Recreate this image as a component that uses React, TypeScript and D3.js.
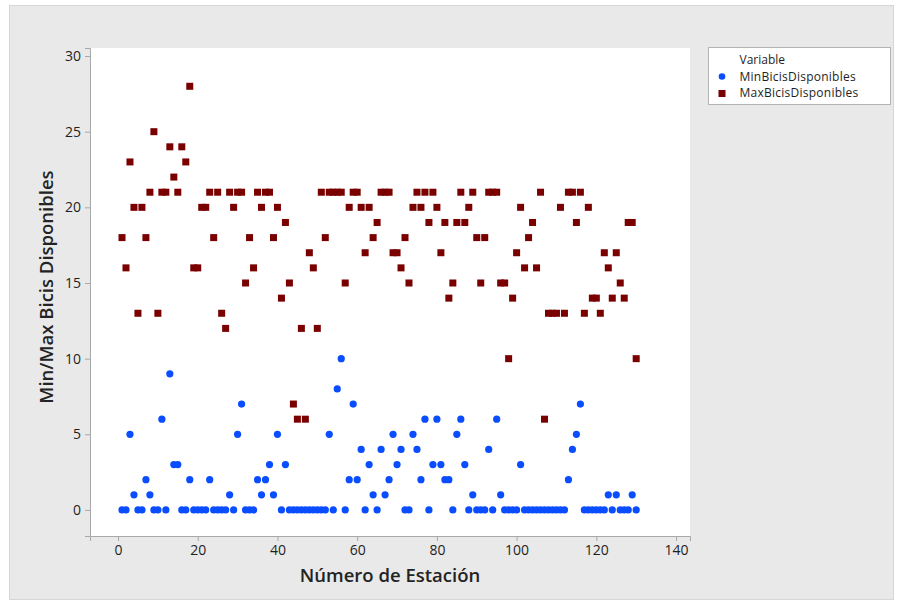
import * as d3 from "d3";
import { useEffect, useRef } from "react";

// station numbers 1..130
const estaciones = d3.range(1, 131);

const minBicis = [
  0, 0, 5, 1, 0, 0, 2, 1, 0, 0, 6, 0, 9, 3, 3, 0, 0, 2, 0, 0,
  0, 0, 2, 0, 0, 0, 0, 1, 0, 5, 7, 0, 0, 0, 2, 1, 2, 3, 1, 5,
  0, 3, 0, 0, 0, 0, 0, 0, 0, 0, 0, 0, 5, 0, 8, 10, 0, 2, 7, 2,
  4, 0, 3, 1, 0, 4, 1, 2, 5, 3, 4, 0, 0, 5, 4, 2, 6, 0, 3, 6,
  3, 2, 2, 0, 5, 6, 3, 0, 1, 0, 0, 0, 4, 0, 6, 1, 0, 0, 0, 0,
  3, 0, 0, 0, 0, 0, 0, 0, 0, 0, 0, 0, 2, 4, 5, 7, 0, 0, 0, 0,
  0, 0, 1, 0, 1, 0, 0, 0, 1, 0,
];

const maxBicis = [
  18, 16, 23, 20, 13, 20, 18, 21, 25, 13, 21, 21, 24, 22, 21, 24, 23, 28, 16, 16,
  20, 20, 21, 18, 21, 13, 12, 21, 20, 21, 21, 15, 18, 16, 21, 20, 21, 21, 18, 20,
  14, 19, 15, 7, 6, 12, 6, 17, 16, 12, 21, 18, 21, 21, 21, 21, 15, 20, 21, 21,
  20, 17, 20, 18, 19, 21, 21, 21, 17, 17, 16, 18, 15, 20, 21, 20, 21, 19, 21, 20,
  17, 19, 14, 15, 19, 21, 19, 20, 21, 18, 15, 18, 21, 21, 21, 15, 15, 10, 14, 17,
  20, 16, 18, 19, 16, 21, 6, 13, 13, 13, 20, 13, 21, 21, 19, 21, 13, 20, 14, 14,
  13, 17, 16, 14, 17, 15, 14, 19, 19, 10,
];

const xTicks = [0, 20, 40, 60, 80, 100, 120, 140];
const yTicks = [0, 5, 10, 15, 20, 25, 30];
const seriesNames = ["MinBicisDisponibles", "MaxBicisDisponibles"];
const seriesColors = ["#0a4dff", "#7a0000"];

const W = 903;
const H = 605;
const FONT = "'Open Sans', 'Noto Sans', sans-serif";

const App = () => {
  const ref = useRef<SVGSVGElement | null>(null);

  useEffect(() => {
    const svg = d3.select(ref.current);
    svg.selectAll("*").remove();

    const margin = { top: 48, left: 90, right: 213, bottom: 69 };
    const plotW = W - margin.left - margin.right;
    const plotH = H - margin.top - margin.bottom;

    // outer panel
    svg.append("rect").attr("width", W).attr("height", H).attr("fill", "#ffffff");
    svg.append("rect")
      .attr("x", 9.5).attr("y", 5.5)
      .attr("width", W - 19).attr("height", H - 11)
      .attr("fill", "#e9e9e9")
      .attr("stroke", "#d6d6d6");

    const x = d3.scaleLinear().domain([-7.03, 143.5]).range([0, plotW]);
    const y = d3.scaleLinear().domain([-1.72, 30.53]).range([plotH, 0]);

    const g = svg.append("g").attr("transform", `translate(${margin.left},${margin.top})`);

    g.append("rect").attr("width", plotW).attr("height", plotH).attr("fill", "#ffffff");

    const xAxis = g.append("g")
      .attr("transform", `translate(0,${plotH})`)
      .call(d3.axisBottom(x).tickValues(xTicks).tickSize(5).tickPadding(4));
    const yAxis = g.append("g")
      .call(d3.axisLeft(y).tickValues(yTicks).tickSize(5).tickPadding(4));

    [xAxis, yAxis].forEach(ax => {
      ax.select(".domain").attr("stroke", "#a8a8a8");
      ax.selectAll(".tick line").attr("stroke", "#a8a8a8");
      ax.selectAll(".tick text")
        .attr("fill", "#1f1f1f")
        .style("font-family", FONT)
        .style("font-size", "14px");
    });

    // min series: circles
    g.append("g").selectAll("circle")
      .data(estaciones)
      .enter()
      .append("circle")
      .attr("cx", (d) => x(d))
      .attr("cy", (d, i) => y(minBicis[i]))
      .attr("r", 3.6)
      .attr("fill", seriesColors[0]);

    // max series: squares
    const s = 7;
    g.append("g").selectAll("rect")
      .data(estaciones)
      .enter()
      .append("rect")
      .attr("x", (d) => x(d) - s / 2)
      .attr("y", (d, i) => y(maxBicis[i]) - s / 2)
      .attr("width", s)
      .attr("height", s)
      .attr("fill", seriesColors[1]);

    // axis titles
    svg.append("text")
      .attr("x", margin.left + plotW / 2)
      .attr("y", 582)
      .attr("text-anchor", "middle")
      .attr("fill", "#232323")
      .style("font-family", FONT)
      .style("font-size", "18.5px")
      .style("font-weight", 600)
      .text("Número de Estación");

    svg.append("text")
      .attr("transform", `translate(53,${margin.top + plotH / 2 - 5}) rotate(-90)`)
      .attr("text-anchor", "middle")
      .attr("fill", "#232323")
      .style("font-family", FONT)
      .style("font-size", "18.5px")
      .style("font-weight", 600)
      .text("Min/Max Bicis Disponibles");

    // legend
    const lg = svg.append("g").attr("transform", "translate(708.5,47.5)");
    lg.append("rect")
      .attr("width", 182).attr("height", 57)
      .attr("fill", "#ffffff")
      .attr("stroke", "#b4b4b4");
    lg.append("text")
      .attr("x", 31).attr("y", 16.5)
      .attr("fill", "#1e1e1e")
      .style("font-family", FONT)
      .style("font-size", "12px")
      .text("Variable");
    seriesNames.forEach((name, i) => {
      const ly = 33 + i * 16.5;
      if (i === 0) {
        lg.append("circle").attr("cx", 13.5).attr("cy", ly - 4).attr("r", 3.3).attr("fill", seriesColors[0]);
      } else {
        lg.append("rect").attr("x", 10).attr("y", ly - 7).attr("width", 7).attr("height", 7).attr("fill", seriesColors[1]);
      }
      lg.append("text")
        .attr("x", 31).attr("y", ly)
        .attr("fill", "#1e1e1e")
        .style("font-family", FONT)
        .style("font-size", "12px")
        .style("letter-spacing", "0.25px")
        .text(name);
    });
  }, []);

  return (
    <svg ref={ref} width={W} height={H} style={{ position: "absolute", left: 0, top: 0, display: "block" }} />
  );
};

export default App;
